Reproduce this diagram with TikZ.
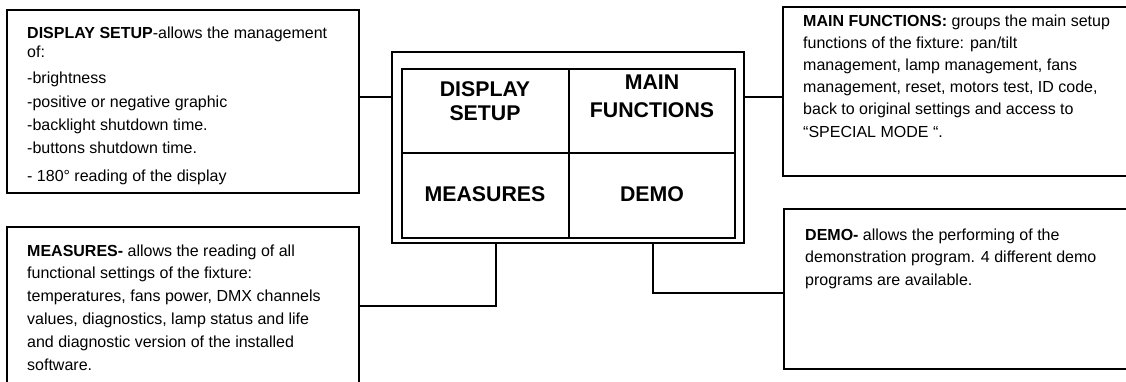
\documentclass[tikz,border=0pt]{standalone}
\usepackage{fontspec}
\setmainfont{Liberation Sans}
\begin{document}
\begin{tikzpicture}[x=1pt,y=-1pt,
  box/.style={draw,line width=1.6pt,inner sep=0pt,outer sep=0pt,anchor=north west},
  cell/.style={draw,line width=2.2pt,inner sep=0pt,outer sep=0pt,anchor=north west},
  txt/.style={anchor=base west,inner sep=0pt,font=\fontsize{16}{19}\selectfont},
  big/.style={anchor=base,inner sep=0pt,font=\fontsize{21.3}{24}\selectfont\bfseries},
  link/.style={line width=1.6pt}]
\clip (0,0) rectangle (1126,381);
\fill[white] (0,0) rectangle (1126,381);
% boxes
\node[box,minimum width=352pt,minimum height=183pt] (tl) at (7,10) {};
\node[box,minimum width=357pt,minimum height=169pt] (mf) at (783,7) {};
\node[box,minimum width=352pt,minimum height=173pt] (ms) at (7,227) {};
\node[box,minimum width=356pt,minimum height=160pt] (dm) at (784,209) {};
% central panel
\node[box,line width=1.4pt,minimum width=352pt,minimum height=191pt] (outer) at (392,52) {};
\node[cell,minimum width=167pt,minimum height=84pt] (c1) at (402,69) {};
\node[cell,minimum width=166pt,minimum height=84pt] (c2) at (569,69) {};
\node[cell,minimum width=167pt,minimum height=85pt] (c3) at (402,153) {};
\node[cell,minimum width=166pt,minimum height=85pt] (c4) at (569,153) {};
\node[big] (d1) at (485,96) {DISPLAY};
\node[big] (d2) at (485,120) {SETUP};
\node[big] (m1) at (652,89.5) {MAIN};
\node[big] (m2) at (652,117) {FUNCTIONS};
\node[big] (m3) at (485,201.5) {MEASURES};
\node[big] (m4) at (652,201.5) {DEMO};
% connector joints
\coordinate (jt) at (0,97);
\coordinate (jm) at (496,306);
\coordinate (jd) at (653,293);
\draw[link] (tl.east |- jt) -- (outer.west |- jt);
\draw[link] (outer.east |- jt) -- (mf.west |- jt);
\draw[link] (outer.south -| jm) |- (ms.east |- jm);
\draw[link] (outer.south -| jd) |- (dm.west |- jd);
% display setup text
\node[txt] (t1) at (27,38) {\textbf{DISPLAY SETUP}-allows the management};
\node[txt] (t2) at (27,57) {of:};
\node[txt] (t3) at (27,83) {-brightness};
\node[txt] (t4) at (27,107) {-positive or negative graphic};
\node[txt] (t5) at (27,130) {-backlight shutdown time.};
\node[txt] (t6) at (27,153) {-buttons shutdown time.};
\node[txt] (t7) at (27,181) {- 180° reading of the display};
% main functions text
\node[txt] (f1) at (803,26) {\textbf{MAIN FUNCTIONS:} groups the main setup};
\node[txt] (f2) at (803,48.2) {functions of the fixture: pan/tilt};
\node[txt] (f3) at (803,70.4) {management, lamp management, fans};
\node[txt] (f4) at (803,92.6) {management, reset, motors test, ID code,};
\node[txt] (f5) at (803,114.8) {back to original settings and access to};
\node[txt] (f6) at (803,137) {“SPECIAL MODE “.};
% measures text
\node[txt] (s1) at (27,256) {\textbf{MEASURES}\textbf{-} allows the reading of all};
\node[txt] (s2) at (27,278.8) {functional settings of the fixture:};
\node[txt] (s3) at (27,301.6) {temperatures, fans power, DMX channels};
\node[txt] (s4) at (27,324.4) {values, diagnostics, lamp status and life};
\node[txt] (s5) at (27,347.2) {and diagnostic version of the installed};
\node[txt] (s6) at (27,370) {software.};
% demo text
\node[txt] (e1) at (805,240) {\textbf{DEMO}\textbf{-} allows the performing of the};
\node[txt] (e2) at (805,262.5) {demonstration program. 4 different demo};
\node[txt] (e3) at (805,285) {programs are available.};
\end{tikzpicture}
\end{document}
